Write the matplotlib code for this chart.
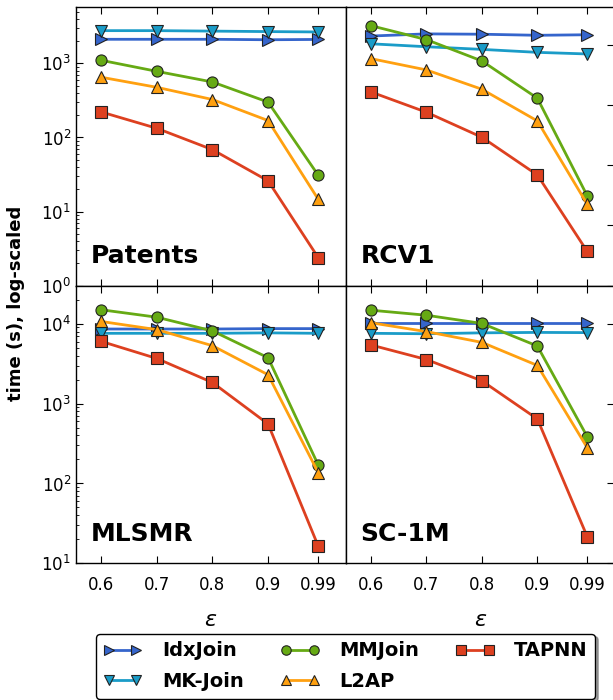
import numpy as np
import matplotlib
matplotlib.use('Agg')
import matplotlib.pyplot as plt

plt.rcParams['font.family'] = 'DejaVu Sans'
plt.rcParams['xtick.direction'] = 'in'
plt.rcParams['ytick.direction'] = 'in'

eps = [0.6, 0.7, 0.8, 0.9, 0.99]
methods = ['IdxJoin', 'MK-Join', 'MMJoin', 'L2AP', 'TAPNN']
markers = ['>', 'v', 'o', '^', 's']
colors = ['#3565cc', '#1a9cc8', '#66aa14', '#ffa010', '#dd4020']

# running time (s) per dataset, one row per method
patents = [
    [2110, 2110, 2110, 2080, 2100],
    [2760, 2760, 2720, 2680, 2650],
    [1100, 780, 560, 300, 31],
    [650, 475, 325, 169, 14.7],
    [221, 133, 68.5, 26, 2.4],
]
rcv1 = [
    [14000, 15200, 15000, 14400, 14700],
    [10400, 9300, 8400, 7500, 7050],
    [20800, 12200, 5400, 1300, 31],
    [5900, 3830, 1830, 545, 22.5],
    [1650, 760, 292, 69, 3.7],
]
mlsmr = [
    [8600, 8600, 8600, 8700, 8700],
    [7600, 7600, 7600, 7700, 7600],
    [15000, 12100, 8150, 3760, 171],
    [10700, 8450, 5320, 2300, 137],
    [6030, 3680, 1840, 556, 16.5],
]
sc1m = [
    [10100, 10100, 10100, 10100, 10100],
    [7600, 7500, 7700, 7800, 7750],
    [14800, 12800, 10100, 5270, 385],
    [10300, 7980, 5850, 3010, 280],
    [5430, 3570, 1930, 643, 21.5],
]
datasets = ['Patents', 'RCV1', 'MLSMR', 'SC-1M']
ylims = [(1, 5700), (1, 42000), (10, 30000), (10, 30000)]

fig = plt.figure(figsize=(6.13, 7.0), dpi=100)
W, H = 613.0, 700.0
boxes = [
    (76, 7.3, 346, 285.7),
    (346, 7.3, 615, 285.7),
    (76, 285.7, 346, 563.3),
    (346, 285.7, 615, 563.3),
]
axes = []
for x0, y0, x1, y1 in boxes:
    axes.append(fig.add_axes([x0 / W, 1 - y1 / H, (x1 - x0) / W, (y1 - y0) / H]))

for i, (ax, data) in enumerate(zip(axes, [patents, rcv1, mlsmr, sc1m])):
    for name, vals, m, c in zip(methods, data, markers, colors):
        ax.plot(eps, vals, marker=m, color=c, lw=2, ms=8, mec='#222222', mew=0.8,
                label=name)
    ax.set_yscale('log')
    ax.set_ylim(*ylims[i])
    ax.set_xlim(0.555, 1.04)
    ax.set_xticks(eps)
    ax.set_xticklabels(['0.6', '0.7', '0.8', '0.9', '0.99'])
    ax.tick_params(axis='x', top=True, bottom=True, length=5, width=0.8, labelsize=12)
    ax.tick_params(axis='y', which='major', length=5, width=0.8, labelsize=12)
    ax.tick_params(axis='y', which='minor', length=2.5, width=0.6)
    if i % 2 == 1:
        # y labels of the right column sit outside the canvas
        ax.tick_params(axis='y', which='major', left=False, right=True,
                       labelleft=False, labelright=False, length=6)
        ax.tick_params(axis='y', which='minor', left=False, right=False)
    if i < 2:
        ax.tick_params(axis='x', labelbottom=False)
    else:
        ax.tick_params(axis='x', pad=9)
        ax.set_xlabel(r'$\epsilon$', fontsize=16, labelpad=12)
    ax.text(0.054, 0.062, datasets[i], transform=ax.transAxes, fontsize=18,
            fontweight='bold', ha='left', va='bottom')
    for sp in ax.spines.values():
        sp.set_linewidth(1.0)

fig.text(16 / W, 1 - 303 / H, 'time (s), log-scaled', rotation=90, fontsize=13,
         fontweight='bold', ha='center', va='center')

handles, labels = axes[0].get_legend_handles_labels()
fig.legend(handles, labels, loc='upper center', bbox_to_anchor=(345.5 / W, 1 - 624 / H),
           ncol=3, numpoints=2, prop={'weight': 'bold', 'size': 14}, fancybox=True,
           shadow=True, edgecolor='black', framealpha=1, handlelength=2.0,
           handletextpad=1.0, columnspacing=1.9, labelspacing=0.6, borderpad=0.4,
           markerscale=0.85)

plt.savefig('out.png', dpi=100)
